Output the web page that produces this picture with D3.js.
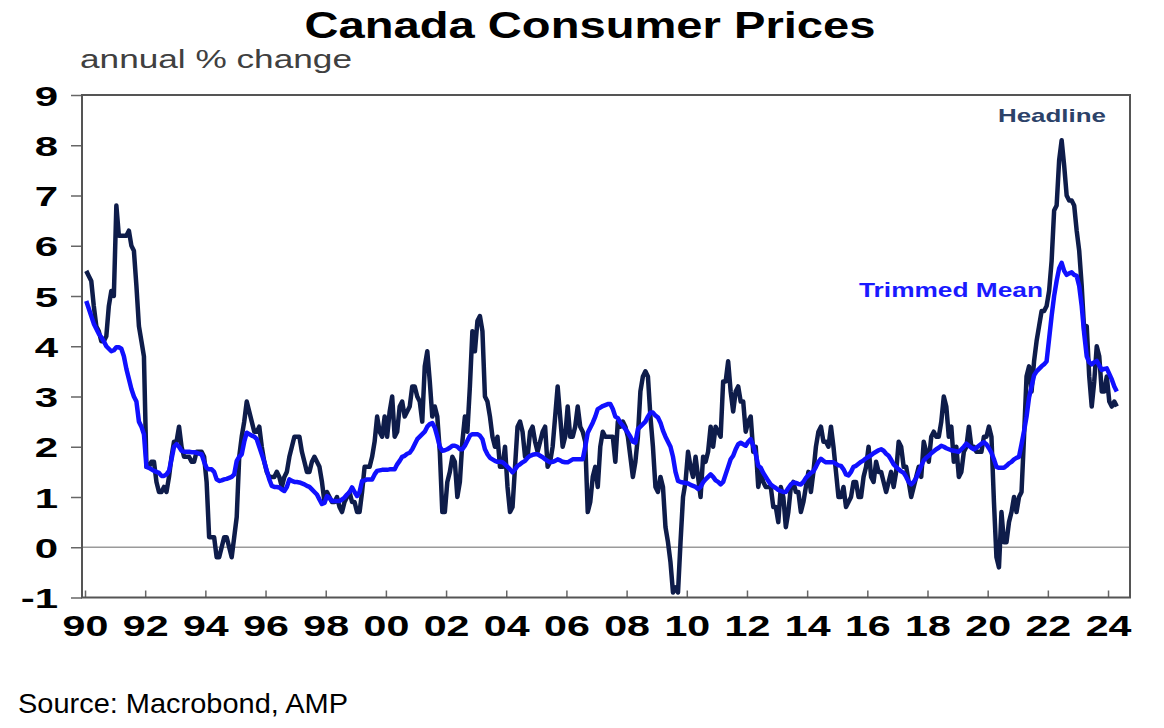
<!DOCTYPE html>
<html><head><meta charset="utf-8">
<script src="https://cdn.jsdelivr.net/npm/d3@7"></script>
<style>body{margin:0;background:#fff}svg{display:block}text{font-family:"Liberation Sans",Arial,sans-serif}</style>
</head><body>
<svg id="c" width="1164" height="728"></svg>
<script>
const startYear = 1990;
const seriesNames = ["Headline", "Trimmed Mean"];
const headline = [
5.5,5.4,5.3,4.8,4.4,4.3,4.1,4.1,4.2,4.8,5.1,5.0,
6.8,6.2,6.2,6.2,6.2,6.3,6.0,5.9,5.2,4.4,4.1,3.8,
1.6,1.6,1.7,1.7,1.3,1.1,1.1,1.2,1.1,1.4,1.8,2.1,
2.1,2.4,2.0,1.8,1.8,1.8,1.7,1.7,1.9,1.9,1.9,1.8,
1.3,0.2,0.2,0.2,-0.2,-0.2,0.0,0.2,0.2,0.0,-0.2,0.2,
0.6,1.8,2.2,2.5,2.9,2.7,2.5,2.3,2.3,2.4,2.0,1.7,
1.5,1.4,1.4,1.4,1.5,1.4,1.2,1.4,1.5,1.8,2.0,2.2,
2.2,2.2,1.9,1.7,1.5,1.5,1.7,1.8,1.7,1.6,1.3,0.9,
1.1,1.0,0.9,0.9,1.0,0.8,0.7,0.9,1.0,1.1,0.9,0.9,
0.7,0.7,1.1,1.6,1.6,1.6,1.8,2.1,2.6,2.3,2.2,2.6,
2.2,2.7,3.0,2.2,2.3,2.8,2.9,2.6,2.7,2.8,3.2,3.2,
3.0,2.9,2.5,3.6,3.9,3.3,2.6,2.8,2.6,1.9,0.7,0.7,
1.3,1.5,1.8,1.7,1.0,1.3,2.1,2.6,2.3,3.2,4.3,3.9,
4.5,4.6,4.3,3.0,2.9,2.6,2.2,2.0,2.2,1.6,1.6,2.0,
1.2,0.7,0.8,1.6,2.4,2.5,2.3,1.8,1.8,2.3,2.4,2.1,
1.9,2.1,2.3,2.4,1.6,1.7,2.0,2.6,3.2,2.6,2.0,2.2,
2.8,2.2,2.2,2.4,2.8,2.4,2.3,2.1,0.7,0.9,1.4,1.6,
1.2,2.0,2.3,2.2,2.2,2.2,2.2,1.7,2.5,2.4,2.5,2.4,
2.2,1.8,1.4,1.7,2.2,3.1,3.4,3.5,3.4,2.6,2.0,1.2,
1.1,1.4,1.2,0.4,0.1,-0.3,-0.9,-0.8,-0.9,0.1,1.0,1.3,
1.9,1.6,1.4,1.8,1.4,1.0,1.8,1.7,1.9,2.4,2.0,2.4,
2.3,2.2,3.3,3.3,3.7,3.1,2.7,3.1,3.2,2.9,2.9,2.3,
2.5,2.6,1.9,2.0,1.2,1.5,1.3,1.2,1.2,1.2,0.8,0.8,
0.5,1.2,1.0,0.4,0.7,1.2,1.3,1.1,1.1,0.7,0.9,1.2,
1.5,1.1,1.5,2.0,2.3,2.4,2.1,2.1,2.0,2.4,2.0,1.5,
1.0,1.0,1.2,0.8,0.9,1.0,1.3,1.3,1.0,1.0,1.4,1.6,
2.0,1.4,1.3,1.7,1.5,1.5,1.3,1.1,1.3,1.5,1.2,1.5,
2.1,2.0,1.6,1.6,1.3,1.0,1.2,1.4,1.6,1.4,2.1,1.9,
1.7,2.2,2.3,2.2,2.2,2.5,3.0,2.8,2.2,2.4,1.7,2.0,
1.4,1.5,1.9,2.0,2.4,2.0,2.0,1.9,1.9,1.9,2.2,2.2,
2.4,2.2,0.9,-0.2,-0.4,0.7,0.1,0.1,0.5,0.7,1.0,0.7,
1.0,1.1,2.2,3.4,3.6,3.1,3.7,4.1,4.4,4.7,4.7,4.8,
5.1,5.7,6.7,6.8,7.7,8.1,7.6,7.0,6.9,6.9,6.8,6.3,
5.9,5.2,4.3,4.4,3.4,2.8,3.3,4.0,3.8,3.1,3.1,3.4,
2.9,2.8,2.9,2.8
];
const trimmedMean = [
4.9,4.75,4.6,4.45,4.35,4.25,4.18,4.1,4.0,3.95,3.9,3.92,
3.98,3.98,3.95,3.8,3.55,3.35,3.15,3.0,2.9,2.5,2.4,2.25,
1.6,1.58,1.55,1.52,1.5,1.48,1.42,1.42,1.45,1.52,1.75,2.0,
2.05,2.0,1.92,1.9,1.9,1.9,1.89,1.89,1.88,1.86,1.85,1.7,
1.58,1.55,1.55,1.5,1.35,1.32,1.33,1.35,1.36,1.38,1.4,1.45,
1.72,1.8,1.85,2.1,2.28,2.25,2.22,2.2,2.15,2.0,1.85,1.7,
1.52,1.35,1.22,1.2,1.2,1.19,1.15,1.12,1.2,1.35,1.32,1.3,
1.3,1.29,1.27,1.25,1.22,1.2,1.15,1.1,1.05,0.95,0.86,0.88,
1.02,0.98,0.92,0.92,0.92,0.92,0.95,0.99,1.05,1.1,1.19,1.1,
1.02,1.1,1.32,1.33,1.35,1.35,1.35,1.45,1.52,1.53,1.54,1.54,
1.54,1.55,1.55,1.55,1.65,1.72,1.8,1.82,1.86,1.88,1.95,2.05,
2.15,2.2,2.25,2.3,2.4,2.45,2.47,2.38,2.2,2.0,1.92,1.93,
1.95,1.98,2.02,2.02,2.0,1.95,1.95,2.02,2.12,2.22,2.25,2.25,
2.25,2.22,2.15,1.95,1.85,1.78,1.75,1.72,1.7,1.7,1.69,1.65,
1.6,1.55,1.49,1.55,1.62,1.65,1.69,1.72,1.78,1.82,1.84,1.85,
1.85,1.82,1.79,1.75,1.72,1.69,1.7,1.72,1.75,1.73,1.7,1.69,
1.69,1.72,1.75,1.75,1.75,1.75,1.75,2.0,2.28,2.38,2.48,2.6,
2.75,2.78,2.81,2.83,2.85,2.85,2.75,2.6,2.57,2.48,2.42,2.35,
2.28,2.2,2.1,2.08,2.35,2.4,2.45,2.5,2.6,2.68,2.68,2.62,
2.58,2.48,2.32,2.2,2.1,2.0,1.8,1.5,1.32,1.3,1.29,1.28,
1.27,1.24,1.22,1.2,1.16,1.2,1.29,1.35,1.4,1.45,1.4,1.33,
1.3,1.25,1.3,1.45,1.6,1.75,1.82,1.95,2.05,2.08,2.05,2.02,
2.1,2.15,2.02,1.85,1.62,1.58,1.48,1.4,1.32,1.25,1.21,1.18,
1.14,1.12,1.1,1.1,1.18,1.25,1.29,1.28,1.26,1.25,1.3,1.38,
1.43,1.48,1.51,1.6,1.7,1.76,1.72,1.69,1.69,1.69,1.69,1.66,
1.63,1.62,1.55,1.45,1.43,1.5,1.6,1.62,1.66,1.7,1.73,1.77,
1.8,1.83,1.87,1.9,1.93,1.95,1.92,1.86,1.82,1.74,1.65,1.6,
1.55,1.51,1.48,1.4,1.3,1.25,1.3,1.38,1.5,1.62,1.73,1.78,
1.82,1.87,1.91,1.95,1.98,2.02,2.0,1.97,1.95,1.93,1.92,1.91,
1.9,1.95,2.0,2.06,2.02,1.98,1.95,1.98,2.02,2.06,2.09,2.05,
1.97,1.88,1.75,1.6,1.58,1.58,1.58,1.62,1.67,1.7,1.75,1.78,
1.8,2.05,2.31,2.6,2.98,3.2,3.42,3.5,3.55,3.6,3.64,3.7,
4.15,4.6,5.0,5.3,5.55,5.66,5.5,5.42,5.45,5.47,5.42,5.4,
5.2,4.8,4.25,3.8,3.68,3.64,3.68,3.71,3.62,3.53,3.55,3.56,
3.45,3.34,3.2,3.1
];
const yTicks = [-1,0,1,2,3,4,5,6,7,8,9];
const xTickYears = [1990,1992,1994,1996,1998,2000,2002,2004,2006,2008,2010,2012,2014,2016,2018,2020,2022,2024];

const svg = d3.select("#c");
const L = 82, R = 1130, T = 95, B = 597.5;
const x = d3.scaleLinear().domain([1989.9, 2024.73]).range([L, R]);
const y = d3.scaleLinear().domain([-1, 9]).range([B, T]);
const dateOf = i => startYear + (i + 0.5) / 12;

function stretch(sel, factor) {
  sel.each(function() {
    const w = this.getComputedTextLength();
    d3.select(this).attr("textLength", w * factor).attr("lengthAdjust", "spacingAndGlyphs");
  });
}
function fitTo(sel, width) {
  sel.attr("textLength", width).attr("lengthAdjust", "spacingAndGlyphs");
}

// title & subtitle
svg.append("text").attr("x", 590).attr("y", 38).attr("text-anchor", "middle")
  .attr("font-size", 37).attr("font-weight", "bold").attr("fill", "#000")
  .text("Canada Consumer Prices").call(fitTo, 571);
svg.append("text").attr("x", 80).attr("y", 68)
  .attr("font-size", 26).attr("fill", "#404040")
  .text("annual % change").call(fitTo, 272);

// zero line
svg.append("line").attr("x1", L).attr("x2", R).attr("y1", y(0)).attr("y2", y(0))
  .attr("stroke", "#9a9a9a").attr("stroke-width", 1.5);

// axes
const yAxis = svg.append("g").attr("transform", `translate(${L},0)`)
  .call(d3.axisLeft(y).tickValues(yTicks).tickSize(11).tickPadding(13).tickFormat(d => String(d)));
yAxis.select(".domain").remove();
yAxis.selectAll(".tick line").attr("stroke", "#666").attr("stroke-width", 1.5);
yAxis.selectAll(".tick text").attr("font-size", 28).attr("font-weight", "bold").attr("fill", "#000")
  .attr("font-family", "Liberation Sans, Arial, sans-serif").attr("dy", "0.36em").call(stretch, 1.5);

const xAxis = svg.append("g").attr("transform", `translate(0,${B})`)
  .call(d3.axisBottom(x).tickValues(xTickYears).tickSizeInner(-7).tickSizeOuter(0).tickPadding(18)
    .tickFormat(d => String(d % 100).padStart(2, "0")));
xAxis.select(".domain").remove();
xAxis.selectAll(".tick line").attr("stroke", "#666").attr("stroke-width", 1.5);
xAxis.selectAll(".tick text").attr("font-size", 29).attr("font-weight", "bold").attr("fill", "#000")
  .attr("font-family", "Liberation Sans, Arial, sans-serif").call(stretch, 1.42);

// frame
svg.append("rect").attr("x", L).attr("y", T).attr("width", R - L).attr("height", B - T)
  .attr("fill", "none").attr("stroke", "#555").attr("stroke-width", 2);

// lines
const line = d3.line().x((d, i) => x(dateOf(i))).y(d => y(d));
svg.append("path").datum(headline).attr("d", line).attr("fill", "none")
  .attr("stroke", "#0e1c4a").attr("stroke-width", 4.5).attr("stroke-linejoin", "round");
svg.append("path").datum(trimmedMean).attr("d", line).attr("fill", "none")
  .attr("stroke", "#1010ff").attr("stroke-width", 4.5).attr("stroke-linejoin", "round");

// series labels
svg.append("text").attr("x", 998).attr("y", 122).attr("font-size", 19).attr("font-weight", "bold")
  .attr("fill", "#2c4269").text(seriesNames[0]).call(fitTo, 108);
svg.append("text").attr("x", 859).attr("y", 297).attr("font-size", 20).attr("font-weight", "bold")
  .attr("fill", "#1a1aff").text(seriesNames[1]).call(fitTo, 184);

// source
svg.append("text").attr("x", 18).attr("y", 713).attr("font-size", 28).attr("fill", "#000")
  .text("Source: Macrobond, AMP").call(fitTo, 330);
</script>
</body></html>
